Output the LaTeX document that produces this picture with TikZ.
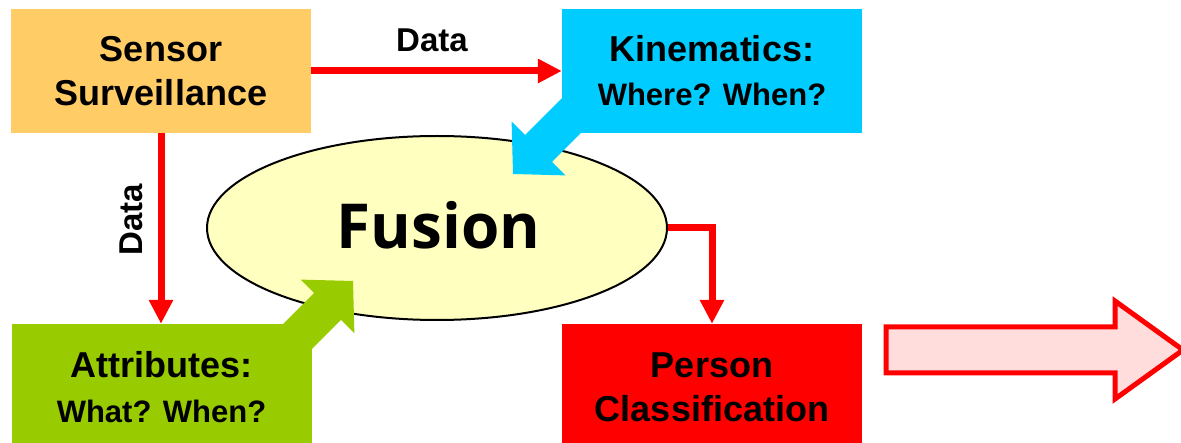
\documentclass[tikz,border=0pt]{standalone}
\usepackage{fontspec}
\setmainfont{Liberation Sans}
\newfontfamily\fusionfont{Open Sans}
\usetikzlibrary{shapes.geometric,arrows.meta}
\definecolor{sensorc}{HTML}{FFCC66}
\definecolor{kinc}{HTML}{00CCFF}
\definecolor{attrc}{HTML}{99CC00}
\definecolor{personc}{HTML}{FF0000}
\definecolor{fusionc}{HTML}{FFFFC0}
\definecolor{pinkc}{HTML}{FFDDDD}
\begin{document}
\begin{tikzpicture}[x=1pt,y=-1pt,
  box/.style={rectangle, inner sep=0pt, align=center, minimum width=300pt,
    font=\bfseries\fontsize{36}{44}\selectfont},
  conn/.style={draw=red, line width=7pt, -{Triangle[length=24pt,width=23pt]}},
  lbl/.style={font=\bfseries\fontsize{33}{40}\selectfont, inner sep=0pt},
  bigarrow/.style={draw=red, line width=5pt, fill=pinkc, line join=miter}
]
\useasboundingbox (0,0) rectangle (1181,443);

% Fusion ellipse
\node[ellipse, draw=black, line width=2pt, fill=fusionc, minimum width=460pt,
  minimum height=184pt, inner sep=0pt,
  font=\fusionfont\bfseries\fontsize{62}{70}\selectfont] (fusion) at (437,228)
  {\raisebox{3pt}[\height][\depth]{\hspace*{3pt}Fusion}};

% fat arrows into the ellipse
\fill[kinc] (513,174) -- (565.4,175.4) -- (552,162) -- (601.4,112.4)
  -- (574.6,85.6) -- (525.1,135.1) -- (511.6,121.6) -- cycle;
\fill[attrc] (353,281) -- (354.4,333.4) -- (340.9,319.9) -- (291.4,369.4)
  -- (264.6,342.6) -- (314.1,293.1) -- (300.6,279.6) -- cycle;

% boxes
\node[box, fill=sensorc, minimum height=124pt] (sensor) at (161,71) {Sensor\\Surveillance};
\node[box, fill=kinc, minimum height=124pt] (kin) at (712,71)
  {Kinematics:\\{\fontsize{31}{44}\selectfont Where? When?}};
\node[box, fill=attrc, minimum height=127pt, font=\bfseries\fontsize{36}{45}\selectfont]
  (attr) at (161.5,387.5) {Attributes:\\{\fontsize{31}{45}\selectfont What? When?}};
\node[box, fill=personc, minimum height=127pt] (person) at (712,387.5) {Person\\Classification};

% connectors
\draw[conn] (sensor.east) -- (kin.west);
\draw[conn] (sensor.south) -- (sensor.south |- attr.north);
\draw[conn] (fusion.east) -| (person.north);

% labels
\node[lbl, anchor=base] (data1) at (432,52) {Data};
\node[lbl, rotate=90, anchor=base] (data2) at (142,220) {Data};

% big output arrow
\draw[bigarrow] (886,327) -- (1115,327) -- (1115,301) -- (1183,350)
  -- (1115,399) -- (1115,373) -- (886,373) -- cycle;
\end{tikzpicture}
\end{document}
